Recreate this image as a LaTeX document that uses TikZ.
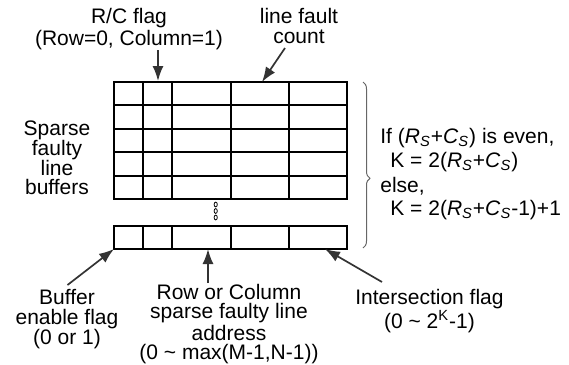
\documentclass[tikz,border=0pt]{standalone}
\usepackage{fontspec}
\setmainfont{Liberation Sans}
\usetikzlibrary{
    arrows.meta,
    decorations.pathreplacing
}

\newcommand{\rsterm}{\textit{R}\textsubscript{\textit{S}}}
\newcommand{\csterm}{\textit{C}\textsubscript{\textit{S}}}

\begin{document}
\begin{tikzpicture}[
    x=0.5pt,
    y=-0.5pt,
    font=\fontsize{10.5pt}{11pt}\selectfont,
    gridline/.style={
        line width=1pt,
        line cap=rect,
        draw=black
    },
    arrow/.style={
        -{Latex[length=7.5pt,width=5.5pt]},
        line width=0.85pt,
        draw=black!80
    },
    note/.style={
        align=center,
        inner sep=0pt
    },
    condtext/.style={
        anchor=west,
        inner sep=0pt
    }
]
\useasboundingbox (0,0) rectangle (569,365);

% =========================================================
% Buffer table
% =========================================================
\foreach \y in {82,105.4,128.8,152.2,175.6,199}
    \draw[gridline] (113.5,\y) -- (346.7,\y);
\foreach \x in {113.5,142.7,172,230.7,288.7,346.7}
    \draw[gridline] (\x,82) -- (\x,199);

\draw[gridline] (113.5,226) rectangle (346.7,249);
\foreach \x in {142.7,172,230.7,288.7}
    \draw[gridline] (\x,226) -- (\x,249);

\foreach \y in {204.5,211,217.5}
    \draw[line width=0.4pt] (215.7,\y) ellipse (0.8pt and 1.2pt);

\draw[decorate, decoration={brace, amplitude=3.5pt, aspect=0.58},
    draw=black!60, line width=0.5pt] (363,82) -- (363,248);

% =========================================================
% Labels
% =========================================================
\node[note] (rcflag) at (129,29) {R/C flag\\(Row=0, Column=1)};
\node[note, font=\fontsize{10.5pt}{9.6pt}\selectfont] (faultcount) at (299,26)
{line fault\\count};
\node[note, font=\fontsize{10.5pt}{9.9pt}\selectfont] (buffers) at (57,158)
{Sparse\\faulty\\line\\buffers};

\node[note, font=\fontsize{10.5pt}{10pt}\selectfont] (enableflag) at (67,319)
{Buffer\\enable flag\\(0 or 1)};
\node[note, font=\fontsize{10.5pt}{9.5pt}\selectfont] (lineaddress) at (229,324)
{Row or Column\\sparse faulty line\\address\\(0 \textasciitilde{} max(M-1,N-1))};
\node[note] (interflag) at (429.5,311)
{Intersection flag\\(0 \textasciitilde{} 2\textsuperscript{K}-1)};

\node[condtext] (ifeven) at (380,138) {If (\rsterm+\csterm) is even,};
\node[condtext] (keven) at (390,162) {K = 2(\rsterm+\csterm)};
\node[condtext] (elsecase) at (380,186) {else,};
\node[condtext] (kodd) at (390,210) {K = 2(\rsterm+\csterm-1)+1};

% =========================================================
% Arrows
% =========================================================
\coordinate (rcflagfrom) at (158,50);
\coordinate (rcflagto) at (158,81);
\coordinate (countfrom) at (285,48);
\coordinate (countto) at (262,82);
\coordinate (enablefrom) at (67.5,285);
\coordinate (enableto) at (114,249);
\coordinate (addressfrom) at (208,283);
\coordinate (addressto) at (208,249);
\coordinate (interfrom) at (382,282);
\coordinate (interto) at (325,249);

\draw[arrow] (rcflagfrom) -- (rcflagto);
\draw[arrow] (countfrom) -- (countto);
\draw[arrow] (enablefrom) -- (enableto);
\draw[arrow] (addressfrom) -- (addressto);
\draw[arrow] (interfrom) -- (interto);

\end{tikzpicture}
\end{document}
